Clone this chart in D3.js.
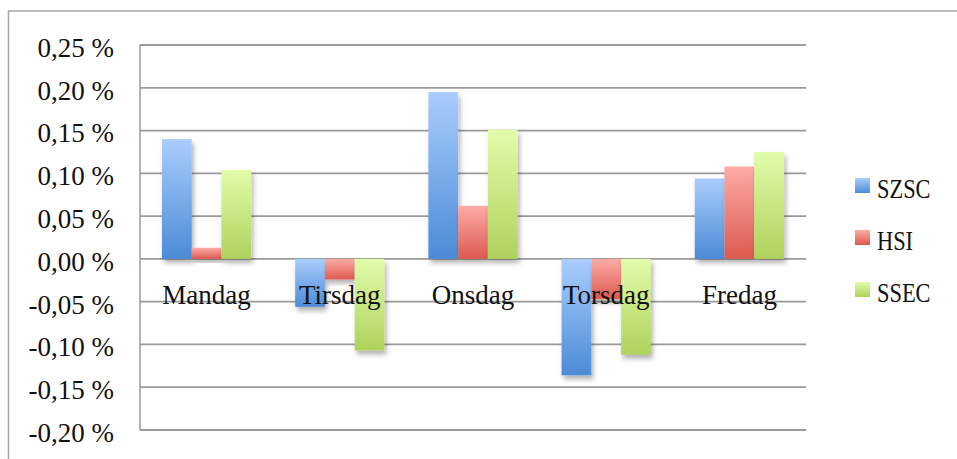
<!DOCTYPE html>
<html>
<head>
<meta charset="utf-8">
<script src="https://cdn.jsdelivr.net/npm/d3@7"></script>
<style>
  html, body { margin: 0; padding: 0; background: #fff; }
  svg { display: block; }
</style>
</head>
<body>
<svg id="chart" width="957" height="459"></svg>
<script>
// Average daily returns (%) per weekday for each index
const days = ["Mandag", "Tirsdag", "Onsdag", "Torsdag", "Fredag"];
const seriesNames = ["SZSC", "HSI", "SSEC"];
const szsc = [0.140, -0.056, 0.195, -0.136, 0.094];
const hsi  = [0.013, -0.024, 0.062, -0.047, 0.108];
const ssec = [0.104, -0.107, 0.151, -0.112, 0.125];
const tickValues = [-0.20, -0.15, -0.10, -0.05, 0.00, 0.05, 0.10, 0.15, 0.20, 0.25];
const tickLabels = ["-0,20 %", "-0,15 %", "-0,10 %", "-0,05 %", "0,00 %", "0,05 %", "0,10 %", "0,15 %", "0,20 %", "0,25 %"];

const seriesValues = [szsc, hsi, ssec];
const rows = days.map((d, i) => ({
  day: d,
  values: seriesNames.map((s, k) => ({ series: s, value: seriesValues[k][i] }))
}));

// gradient endpoints (top, bottom) for each series
const palette = {
  SZSC: ["#aacdfd", "#4b8bd6"],
  HSI:  ["#fdaba6", "#dc5a4f"],
  SSEC: ["#e2fcaa", "#afd25c"]
};

const serif = "'Liberation Serif', 'Times New Roman', serif";
const svg = d3.select("#chart");
const plot = { left: 140, right: 806, top: 45, bottom: 430 };

const y = d3.scaleLinear().domain([-0.20, 0.25]).range([plot.bottom, plot.top]);
const x0 = d3.scaleBand().domain(days).range([plot.left, plot.right])
  .paddingInner(0.33).paddingOuter(0.165);
const x1 = d3.scaleBand().domain(seriesNames).range([0, x0.bandwidth()]).padding(0);

const defs = svg.append("defs");
seriesNames.forEach(s => {
  const g = defs.append("linearGradient").attr("id", "grad-" + s)
    .attr("x1", 0).attr("y1", 0).attr("x2", 0).attr("y2", 1);
  g.append("stop").attr("offset", "0%").attr("stop-color", palette[s][0]);
  g.append("stop").attr("offset", "100%").attr("stop-color", palette[s][1]);
});
const shadow = defs.append("filter").attr("id", "barShadow")
  .attr("x", "-30%").attr("y", "-30%").attr("width", "160%").attr("height", "160%");
shadow.append("feDropShadow").attr("dx", 2).attr("dy", 4).attr("stdDeviation", 2.5)
  .attr("flood-color", "#000").attr("flood-opacity", 0.3);

// outer chart frame
svg.append("rect")
  .attr("x", 8.5).attr("y", 11).attr("width", 990).attr("height", 500)
  .attr("fill", "none").attr("stroke", "#a6a6a6").attr("stroke-width", 1.5);

// horizontal gridlines
svg.append("g").selectAll("line").data(tickValues).join("line")
  .attr("x1", plot.left).attr("x2", plot.right)
  .attr("y1", d => y(d)).attr("y2", d => y(d))
  .attr("stroke", "#9a9a9a").attr("stroke-width", 1.8);

// vertical axis line
svg.append("line")
  .attr("x1", plot.left).attr("x2", plot.left)
  .attr("y1", plot.top).attr("y2", plot.bottom)
  .attr("stroke", "#9a9a9a").attr("stroke-width", 1.5);

// y axis labels
const yAxis = d3.axisLeft(y).tickValues(tickValues)
  .tickFormat((d, i) => tickLabels[i]).tickSize(0).tickPadding(26);
const yg = svg.append("g").attr("transform", `translate(${plot.left},0)`).call(yAxis);
yg.attr("font-family", null).attr("font-size", null);
yg.select(".domain").remove();
yg.selectAll("text")
  .style("font-family", serif)
  .style("font-size", "27px").style("fill", "#111").attr("dy", "0.42em");

// bars
const groups = svg.append("g").selectAll("g").data(rows).join("g")
  .attr("transform", d => `translate(${x0(d.day)},0)`);
groups.selectAll("rect").data(d => d.values).join("rect")
  .attr("x", d => x1(d.series))
  .attr("width", x1.bandwidth())
  .attr("y", d => y(Math.max(0, d.value)))
  .attr("height", d => Math.abs(y(d.value) - y(0)))
  .attr("fill", d => `url(#grad-${d.series})`)
  .attr("filter", "url(#barShadow)");

// category labels
svg.append("g").selectAll("text").data(days).join("text")
  .attr("x", d => x0(d) + x0.bandwidth() / 2)
  .attr("y", 304)
  .attr("text-anchor", "middle")
  .style("font-family", serif).style("font-size", "27px").style("fill", "#111")
  .text(d => d);

// legend
const legend = svg.append("g").selectAll("g").data(seriesNames).join("g")
  .attr("transform", (d, i) => `translate(855,${178 + i * 52})`);
legend.append("rect")
  .attr("width", 15).attr("height", 15)
  .attr("fill", d => `url(#grad-${d})`);
legend.append("text")
  .attr("transform", "translate(22,20) scale(0.8,1)")
  .style("font-family", serif).style("font-size", "28px").style("fill", "#111")
  .text(d => d);
</script>
</body>
</html>
